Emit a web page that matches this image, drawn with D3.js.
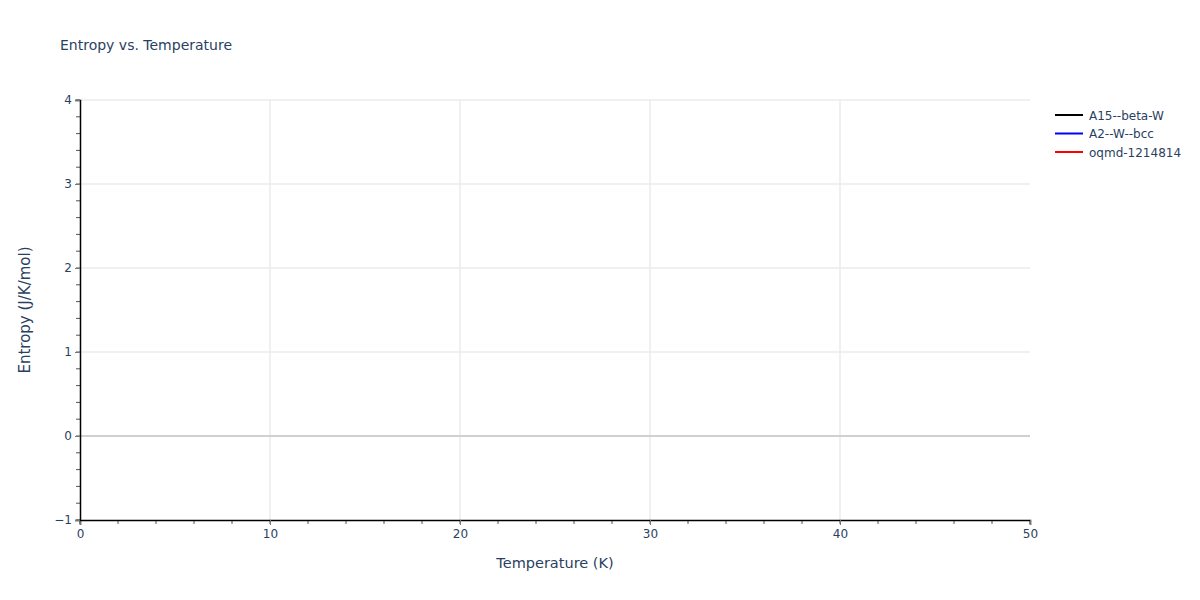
<!DOCTYPE html>
<html>
<head>
<meta charset="utf-8">
<script src="https://cdn.jsdelivr.net/npm/d3@7"></script>
<style>
body { margin: 0; background: #fff; }
text { font-family: "DejaVu Sans", verdana, arial, sans-serif; fill: #2a3f5f; }
</style>
</head>
<body>
<svg id="chart"></svg>
<script>
const width = 1200;
const height = 600;

// series shown in the legend (no points fall inside the visible range)
const seriesNames = ["A15--beta-W", "A2--W--bcc", "oqmd-1214814"];
const seriesColors = ["black", "blue", "red"];
const seriesTemps = [[], [], []];
const seriesEntropy = [[], [], []];

const xTicks = [0, 10, 20, 30, 40, 50];
const yTicks = [-1, 0, 1, 2, 3, 4];

const margin = {left: 80, right: 170, top: 100, bottom: 80};

const svg = d3.select("#chart").attr("width", width).attr("height", height);

const x = d3.scaleLinear().domain([0, 50]).range([margin.left, width - margin.right]);
const y = d3.scaleLinear().domain([-1, 4]).range([height - margin.bottom, margin.top]);

// grid
svg.append("g").selectAll("line").data(xTicks.filter(d => d > 0 && d < 50)).enter()
    .append("line")
    .attr("x1", d => x(d)).attr("x2", d => x(d))
    .attr("y1", y(-1)).attr("y2", y(4))
    .attr("stroke", "#ebebeb").attr("stroke-width", 1.5);

svg.append("g").selectAll("line").data(yTicks.filter(d => d > -1)).enter()
    .append("line")
    .attr("x1", x(0)).attr("x2", x(50))
    .attr("y1", d => y(d)).attr("y2", d => y(d))
    .attr("stroke", d => d === 0 ? "#d0d0d0" : "#ebebeb")
    .attr("stroke-width", d => d === 0 ? 2 : 1.5);

// minor ticks
const xMinor = d3.range(0, 50.01, 2);
const yMinor = d3.range(-1, 4.001, 0.2);

svg.append("g").selectAll("line").data(xMinor).enter()
    .append("line")
    .attr("x1", d => x(d)).attr("x2", d => x(d))
    .attr("y1", y(-1)).attr("y2", y(-1) + 4)
    .attr("stroke", "#555").attr("stroke-width", 1);

svg.append("g").selectAll("line").data(yMinor).enter()
    .append("line")
    .attr("x1", x(0) - 4).attr("x2", x(0))
    .attr("y1", d => y(d)).attr("y2", d => y(d))
    .attr("stroke", "#555").attr("stroke-width", 1);

// axes
const xAxis = d3.axisBottom(x).tickValues(xTicks).tickSize(5).tickPadding(4).tickFormat(d3.format("d"));
const yAxis = d3.axisLeft(y).tickValues(yTicks).tickSize(5).tickPadding(3)
    .tickFormat(d => d < 0 ? "\u2212" + Math.abs(d) : d);

const gx = svg.append("g").attr("transform", `translate(0,${y(-1)})`).call(xAxis);
const gy = svg.append("g").attr("transform", `translate(${x(0)},0)`).call(yAxis);

[gx, gy].forEach(g => {
    g.select(".domain").attr("stroke", "black").attr("stroke-width", 1.5);
    g.selectAll(".tick line").attr("stroke", "#777");
    g.selectAll(".tick text").style("font-size", "12px").attr("fill", "#2a3f5f");
});

// data lines
const line = d3.line().x(d => x(d[0])).y(d => y(d[1]));
seriesNames.forEach((name, i) => {
    const pts = seriesTemps[i].map((t, j) => [t, seriesEntropy[i][j]]);
    svg.append("path").datum(pts)
        .attr("d", line)
        .attr("fill", "none")
        .attr("stroke", seriesColors[i])
        .attr("stroke-width", 2);
});

// titles
svg.append("text").attr("x", 60).attr("y", 50)
    .style("font-size", "14px").text("Entropy vs. Temperature");

svg.append("text").attr("x", (x(0) + x(50)) / 2).attr("y", 568)
    .attr("text-anchor", "middle").style("font-size", "14.5px").text("Temperature (K)");

svg.append("text")
    .attr("transform", `translate(30,${(y(-1) + y(4)) / 2}) rotate(-90)`)
    .attr("text-anchor", "middle").style("font-size", "15px").text("Entropy (J/K/mol)");

// legend
const legend = svg.append("g").attr("transform", "translate(1055,115)");
seriesNames.forEach((name, i) => {
    const row = legend.append("g").attr("transform", `translate(0,${i * 18.5})`);
    row.append("line").attr("x1", 0).attr("x2", 28).attr("y1", 0).attr("y2", 0)
        .attr("stroke", seriesColors[i]).attr("stroke-width", 2);
    row.append("text").attr("x", 34).attr("y", 4.5)
        .style("font-size", "12px").text(name);
});
</script>
</body>
</html>
